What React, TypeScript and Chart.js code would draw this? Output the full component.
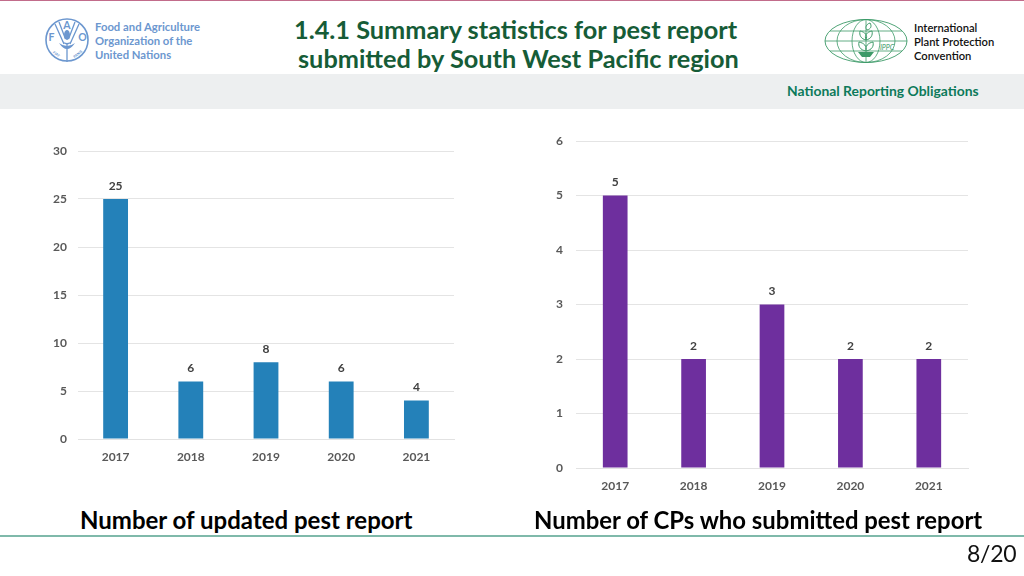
import React, { useEffect, useRef } from "react";
import { Chart, registerables } from "chart.js";

Chart.register(...registerables);

const years = ["2017", "2018", "2019", "2020", "2021"];
const updatedReports = [25, 6, 8, 6, 4];
const submittingCPs = [5, 2, 3, 2, 2];
const FONT = "Lato, 'Open Sans', sans-serif";

const valueLabels = {
  id: "valueLabels",
  afterDatasetsDraw(chart: any) {
    const { ctx } = chart;
    const meta = chart.getDatasetMeta(0);
    const data = chart.data.datasets[0].data;
    ctx.save();
    ctx.font = `bold 12px ${FONT}`;
    ctx.fillStyle = "#404040";
    ctx.textAlign = "center";
    ctx.textBaseline = "middle";
    meta.data.forEach((bar: any, i: number) => {
      ctx.fillText(String(data[i]), bar.x, bar.y - 13);
    });
    ctx.restore();
  },
};

type PanelProps = {
  values: number[];
  color: string;
  max: number;
  step: number;
  pct: number;
  box: { left: number; top: number; width: number; height: number };
  padTop: number;
  padRight: number;
  yWidth: number;
  xHeight: number;
  yPad: number;
  label: string;
};

function Panel({ values, color, max, step, pct, box, padTop, padRight, yWidth, xHeight, yPad, label }: PanelProps) {
  const ref = useRef<HTMLCanvasElement>(null);
  useEffect(() => {
    const chart = new Chart(ref.current as HTMLCanvasElement, {
      type: "bar",
      data: {
        labels: years,
        datasets: [{ label, data: values, backgroundColor: color, barPercentage: pct, categoryPercentage: 1 }],
      },
      options: {
        animation: false,
        responsive: false,
        maintainAspectRatio: false,
        layout: { padding: { top: padTop, right: padRight, left: 0, bottom: 0 } },
        plugins: { legend: { display: false }, title: { display: false }, tooltip: { enabled: false } },
        scales: {
          x: {
            grid: { display: false },
            border: { color: "#e2e2e2", width: 1 },
            ticks: { color: "#595959", font: { family: FONT, size: 12, weight: "bold" }, padding: 3, maxRotation: 0 },
            afterFit(s: any) { s.height = xHeight; },
          },
          y: {
            min: 0,
            max,
            grid: { color: "#e4e4e4", lineWidth: 1, drawTicks: false },
            border: { display: false },
            ticks: { stepSize: step, color: "#595959", font: { family: FONT, size: 12, weight: "bold" }, padding: yPad },
            afterFit(s: any) { s.width = yWidth; },
          },
        },
      },
      plugins: [valueLabels],
    } as any);
    return () => chart.destroy();
  }, []);
  return (
    <canvas
      ref={ref}
      width={box.width}
      height={box.height}
      style={{ position: "absolute", left: box.left, top: box.top, width: box.width, height: box.height }}
    />
  );
}

const txt = (
  s: string,
  x: number,
  y: number,
  size: number,
  color: string,
  weight: number | string = 700,
  extra: React.CSSProperties = {}
) => (
  <div
    style={{
      position: "absolute",
      left: x,
      top: y - size,
      height: size * 2,
      lineHeight: `${size * 2}px`,
      fontSize: size,
      fontFamily: FONT,
      fontWeight: weight as any,
      color,
      whiteSpace: "nowrap",
      ...extra,
    }}
  >
    {s}
  </div>
);

function FaoLogo() {
  const c = "#6c97cf";
  return (
    <svg style={{ position: "absolute", left: 44, top: 17 }} width={46} height={46} viewBox="0 0 46 46">
      <circle cx="23" cy="23" r="21" fill="none" stroke={c} strokeWidth="1.6" />
      <path d="M11 7 L20 27 M35 7 L26 27 M15 5 L21.5 22 M31 5 L24.5 22 M23 26 V45" stroke={c} strokeWidth="1.3" fill="none" />
      <path d="M15 26 Q23 38 31 26 Q23 32 15 26Z M18 24 Q23 31 28 24 Q23 28 18 24Z" fill={c} />
      <ellipse cx="23" cy="18" rx="3" ry="5" fill={c} />
      <text x="23" y="12" fontSize="10.5" fontWeight="700" fontFamily={FONT} fill={c} textAnchor="middle">A</text>
      <text x="7.5" y="24" fontSize="10.5" fontWeight="700" fontFamily={FONT} fill={c} textAnchor="middle">F</text>
      <text x="38.5" y="24" fontSize="10.5" fontWeight="700" fontFamily={FONT} fill={c} textAnchor="middle">O</text>
      <text x="11.5" y="38" fontSize="3.6" fontWeight="700" fontFamily={FONT} fill={c} textAnchor="middle" transform="rotate(38 11.5 38)">FIAT</text>
      <text x="34.5" y="38" fontSize="3.6" fontWeight="700" fontFamily={FONT} fill={c} textAnchor="middle" transform="rotate(-38 34.5 38)">PANIS</text>
    </svg>
  );
}

function IppcLogo() {
  const c = "#3c9a68";
  return (
    <svg style={{ position: "absolute", left: 822, top: 17 }} width={88} height={48} viewBox="0 0 88 48">
      <ellipse cx="44" cy="24" rx="41" ry="21.5" fill="none" stroke={c} strokeWidth="0.9" />
      <ellipse cx="44" cy="24" rx="29" ry="21.5" fill="none" stroke={c} strokeWidth="0.8" />
      <ellipse cx="44" cy="24" rx="14" ry="21.5" fill="none" stroke={c} strokeWidth="0.8" />
      <path d="M3 24 H85 M8 14 H80 M8 34 H80 M44 3 V45" stroke={c} strokeWidth="0.8" fill="none" />
      <path d="M44 34 C38 33 36 29 37 25 C42 26 45 29 44 34Z M44 34 C50 33 52 29 51 25 C46 26 43 29 44 34Z M44 23 C39 22 37 18 38 14 C43 15 46 18 44 23Z M44 23 C49 22 51 18 50 14 C45 15 42 18 44 23Z M45 13 C43 11 44 7 48 6 C50 9 49 12 45 13Z" fill="#fff" stroke={c} strokeWidth="1" />
      <path d="M36 35 H52 L48 40 H40Z" fill={c} />
      <text x="65" y="33" fontSize="7" fontStyle="italic" fontFamily={FONT} fill={c} textAnchor="middle">IPPC</text>
    </svg>
  );
}

export default function App() {
  return (
    <div style={{ position: "absolute", left: 0, top: 0, width: 1024, height: 576, background: "#fff", overflow: "hidden" }}>
      <div style={{ position: "absolute", left: 0, top: 0, width: 1024, height: 1, background: "#c26c8b" }} />
      <div style={{ position: "absolute", left: 0, top: 74, width: 1024, height: 35, background: "#edeff0" }} />
      <div style={{ position: "absolute", left: 0, top: 535, width: 1024, height: 2, background: "#7fb9aa" }} />

      <FaoLogo />
      {txt("Food and Agriculture", 95, 27, 11.3, "#6c97cf")}
      {txt("Organization of the", 95, 41, 11.3, "#6c97cf")}
      {txt("United Nations", 95, 55, 11.3, "#6c97cf")}

      {txt("1.4.1 Summary statistics for pest report", 294, 29, 25.3, "#165c37")}
      {txt("submitted by South West Pacific region", 298, 58, 25.3, "#165c37")}

      <IppcLogo />
      {txt("International", 914, 28, 11.2, "#111", 600)}
      {txt("Plant Protection", 914, 42, 11.2, "#111", 600)}
      {txt("Convention", 914, 56, 11.2, "#111", 600)}

      {txt("National Reporting Obligations", 787, 91, 13.9, "#0c7a5a")}

      <Panel
        values={updatedReports}
        color="#2481b9"
        max={30}
        step={5}
        pct={0.33}
        box={{ left: 30, top: 130, width: 440, height: 345 }}
        padTop={21}
        padRight={16}
        yWidth={48}
        xHeight={36}
        yPad={11}
        label="Number of updated pest report"
      />
      <Panel
        values={submittingCPs}
        color="#6e2f9e"
        max={6}
        step={1}
        pct={0.315}
        box={{ left: 530, top: 120, width: 454, height: 384 }}
        padTop={21}
        padRight={16}
        yWidth={46}
        xHeight={36}
        yPad={13}
        label="Number of CPs who submitted pest report"
      />

      {txt("Number of updated pest report", 80, 520, 24, "#000")}
      {txt("Number of CPs who submitted pest report", 534, 520, 23.9, "#000")}
      {txt("8/20", 967, 553, 23, "#111", 400, { letterSpacing: -0.3 })}
    </div>
  );
}
